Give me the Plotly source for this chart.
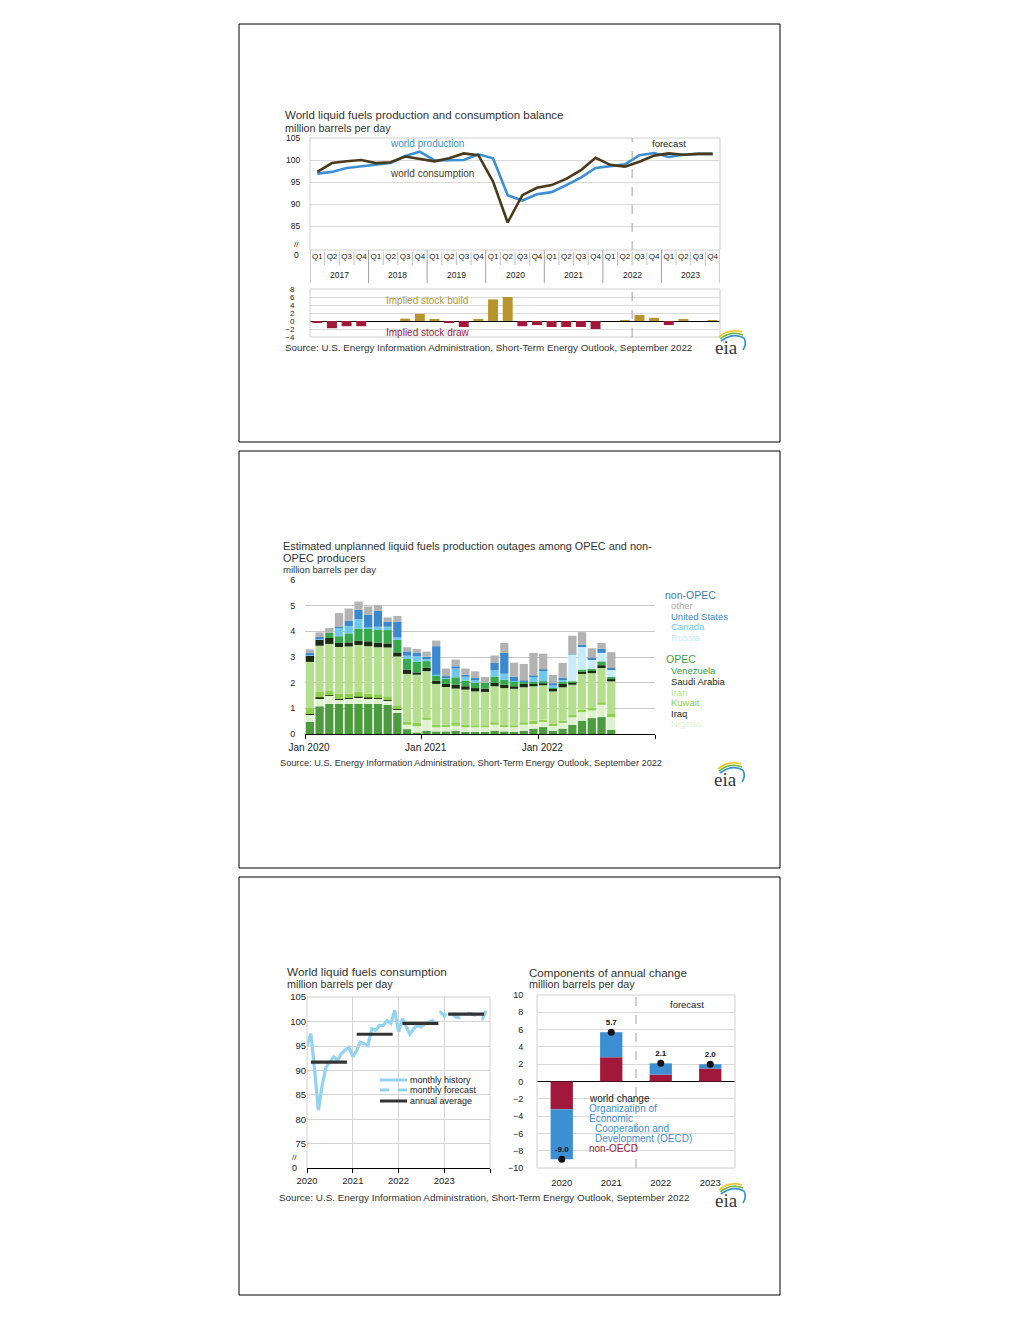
import plotly.graph_objects as go
import pandas as pd

W, H = 1020, 1320
OX, OY = 8, 8  # page body margin of the browser
FONT = "Liberation Sans, Arial, Helvetica, sans-serif"
SERIF = "Liberation Serif, DejaVu Serif, Times New Roman, serif"
INK = "#222222"
GRID = "#d9d9d9"
BLUE = "#3c8fd2"
BROWN = "#4a3a1c"
GOLD = "#b8952c"
CRIMSON = "#a2183a"
LIGHTBLUE = "#93d3ef"

# ================= Panel 1: production / consumption balance =================
quarter_names = ["Q1", "Q2", "Q3", "Q4"]
balance_years = ["2017", "2018", "2019", "2020", "2021", "2022", "2023"]
world_production = [96.9, 97.3, 98.2, 98.6, 98.9, 99.3, 100.9, 101.9,
                    99.9, 100.0, 100.0, 101.3, 100.4, 92.0, 90.8, 92.2,
                    92.7, 94.3, 96.0, 98.2, 98.6, 99.0, 101.1, 101.6,
                    100.7, 101.2, 101.4, 101.4]
world_consumption = [97.3, 99.3, 99.7, 100.0, 99.3, 99.5, 100.8, 100.3,
                     99.7, 100.4, 101.5, 101.1, 95.1, 85.8, 92.0, 93.7,
                     94.3, 95.7, 97.7, 100.5, 98.9, 98.5, 99.6, 101.0,
                     101.5, 101.2, 101.4, 101.4]
implied_stock_change = [-0.3, -1.8, -1.3, -1.3, 0.0, 0.0, 0.6, 1.8,
                        0.3, -0.3, -1.5, 0.5, 5.4, 6.0, -1.3, -1.0,
                        -1.5, -1.5, -1.5, -2.0, 0.0, 0.2, 1.5, 0.8,
                        -1.0, 0.3, 0.0, 0.2]
balance_forecast_boundary = 21.5  # between 2022 Q2 and 2022 Q3

# ================= Panel 2: unplanned outages (Jan 2020 - Aug 2022) =================
outage_tick_labels = ["Jan 2020", "Jan 2021", "Jan 2022", ""]
libya = [0.47, 1.08, 1.17, 1.17, 1.17, 1.17, 1.17, 1.17, 1.13, 0.82, 0.19, 0.05,
         0.13, 0.10, 0.10, 0.13, 0.08, 0.08, 0.08, 0.13, 0.10, 0.08, 0.13, 0.21,
         0.27, 0.13, 0.21, 0.36, 0.52, 0.62, 0.66, 0.17]
nigeria = [0.28, 0.32, 0.32, 0.17, 0.21, 0.26, 0.23, 0.21, 0.17, 0.13, 0.17, 0.25,
           0.42, 0.16, 0.17, 0.19, 0.18, 0.18, 0.18, 0.23, 0.17, 0.18, 0.23, 0.18,
           0.20, 0.19, 0.22, 0.29, 0.33, 0.30, 0.48, 0.49]
iraq = [0.03, 0.03, 0.02, 0.02, 0.02, 0.02, 0.02, 0.02, 0.02, 0.02, 0.0, 0.0,
        0.0, 0.0, 0.0, 0.0, 0.0, 0.0, 0.0, 0.0, 0.0, 0.0, 0.0, 0.0,
        0.0, 0.0, 0.0, 0.0, 0.0, 0.0, 0.0, 0.0]
kuwait = [0.23, 0.23, 0.19, 0.20, 0.18, 0.19, 0.16, 0.15, 0.15, 0.15, 0.13, 0.13,
          0.10, 0.10, 0.09, 0.11, 0.10, 0.08, 0.08, 0.10, 0.09, 0.08, 0.10, 0.13,
          0.09, 0.07, 0.09, 0.10, 0.10, 0.09, 0.10, 0.12]
iran = [1.80, 1.78, 1.81, 1.83, 1.83, 1.83, 1.84, 1.83, 1.90, 1.90, 1.85, 1.88,
        1.80, 1.59, 1.47, 1.34, 1.37, 1.32, 1.30, 1.40, 1.43, 1.42, 1.36, 1.34,
        1.34, 1.27, 1.30, 1.17, 1.39, 1.36, 1.33, 1.27]
saudi_arabia = [0.25, 0.24, 0.23, 0.16, 0.16, 0.16, 0.19, 0.18, 0.16, 0.16, 0.17, 0.09,
                0.13, 0.13, 0.12, 0.15, 0.13, 0.13, 0.13, 0.13, 0.13, 0.10, 0.13, 0.09,
                0.08, 0.11, 0.13, 0.09, 0.08, 0.10, 0.11, 0.09]
venezuela = [0.0, 0.0, 0.20, 0.26, 0.35, 0.48, 0.49, 0.49, 0.52, 0.49, 0.41, 0.41,
             0.26, 0.21, 0.23, 0.29, 0.22, 0.20, 0.22, 0.25, 0.20, 0.17, 0.08, 0.08,
             0.08, 0.06, 0.08, 0.04, 0.09, 0.07, 0.15, 0.08]
russia = [0.0, 0.0, 0.0, 0.0, 0.0, 0.0, 0.0, 0.0, 0.0, 0.0, 0.0, 0.0,
          0.0, 0.0, 0.0, 0.0, 0.0, 0.0, 0.0, 0.0, 0.0, 0.0, 0.0, 0.0,
          0.0, 0.0, 0.0, 1.03, 0.88, 0.37, 0.33, 0.31]
canada = [0.05, 0.06, 0.0, 0.32, 0.29, 0.36, 0.06, 0.13, 0.13, 0.09, 0.13, 0.22,
          0.10, 0.02, 0.03, 0.34, 0.15, 0.13, 0.0, 0.25, 0.23, 0.03, 0.03, 0.22,
          0.42, 0.06, 0.09, 0.03, 0.0, 0.0, 0.0, 0.0]
united_states = [0.04, 0.04, 0.0, 0.04, 0.20, 0.37, 0.48, 0.62, 0.20, 0.62, 0.17, 0.13,
                 0.07, 1.11, 0.04, 0.09, 0.08, 0.06, 0.0, 0.28, 0.81, 0.17, 0.02, 0.02,
                 0.04, 0.09, 0.07, 0.0, 0.09, 0.07, 0.16, 0.04]
other = [0.15, 0.18, 0.19, 0.54, 0.48, 0.32, 0.33, 0.23, 0.16, 0.22, 0.16, 0.15,
         0.20, 0.22, 0.30, 0.26, 0.24, 0.26, 0.23, 0.29, 0.39, 0.55, 0.65, 0.89,
         0.61, 0.32, 0.58, 0.72, 0.49, 0.36, 0.23, 0.62]

# ================= Panel 3: consumption =================
monthly_consumption = [95.1, 97.5, 90.3, 81.9, 87.0, 90.7, 91.7, 92.8, 92.1, 93.4, 94.2, 94.7,
                       92.8, 94.1, 95.8, 95.5, 95.1, 98.5, 98.2, 99.2, 99.2, 100.2, 99.6, 102.3,
                       97.9, 100.6, 98.9, 97.4, 98.5, 99.2, 98.9, 99.6, 99.9, 100.2, 101.6, 101.9,
                       101.1, 102.4, 101.9, 100.9, 100.8, 101.9, 101.7, 101.6, 101.3, 101.6, 100.4, 102.4]
history_month_count = 32  # Jan 2020 - Aug 2022
annual_years = [2020, 2021, 2022, 2023]
annual_average = [91.7, 97.4, 99.6, 101.5]
change_years = ["2020", "2021", "2022", "2023"]
non_oecd_change = [-3.2, 2.8, 0.8, 1.5]
oecd_change = [-5.8, 2.9, 1.3, 0.5]
world_change = [-9.0, 5.7, 2.1, 2.0]

# ---------------------------------------------------------------------------
annotations, shapes = [], []


def px(x):
    return (x - OX) / W


def py(y):
    return 1 - (y - OY) / H


def dx(a, b):
    return [px(a), px(b)]


def dy(top, bottom):
    return [py(bottom), py(top)]


def text(x, y, s, size=9, color=INK, xanchor="left", family=FONT):
    annotations.append(dict(x=px(x), y=py(y), xref="paper", yref="paper", text=s,
                            showarrow=False, xanchor=xanchor, yanchor="middle",
                            font=dict(size=size, color=color, family=family)))


def line(x0, y0, x1, y1, color="#000", width=1, dash="solid"):
    shapes.append(dict(type="line", xref="paper", yref="paper", x0=px(x0), y0=py(y0),
                       x1=px(x1), y1=py(y1), line=dict(color=color, width=width, dash=dash)))


def frame(x0, y0, x1, y1, color="#cfcfcf", sides="ltrb"):
    if "l" in sides:
        line(x0, y0, x0, y1, color)
    if "r" in sides:
        line(x1, y0, x1, y1, color)
    if "t" in sides:
        line(x0, y0, x1, y0, color)
    if "b" in sides:
        line(x0, y1, x1, y1, color)


def logo(cx, cy):
    text(cx, cy, "eia", size=19, color="#3a3a3a", xanchor="center", family=SERIF)
    arcs = [("#f0c419", -7, -10, 3, -19, 16, -15),
            ("#6db33f", -6, -8, 5, -17, 17, -12),
            ("#2f8fd2", -5, -6, 7, -15, 18, -9)]
    for col, ax, ay, bx, by, ex, ey in arcs:
        path = "M %f %f Q %f %f %f %f" % (px(cx + ax), py(cy + ay), px(cx + bx), py(cy + by),
                                          px(cx + ex), py(cy + ey))
        shapes.append(dict(type="path", xref="paper", yref="paper", path=path,
                           line=dict(color=col, width=1.6)))
    path = "M %f %f Q %f %f %f %f" % (px(cx + 18), py(cy - 9), px(cx + 21), py(cy - 3),
                                      px(cx + 17), py(cy + 3))
    shapes.append(dict(type="path", xref="paper", yref="paper", path=path,
                       line=dict(color="#2f8fd2", width=1.6)))


fig = go.Figure()

# ---------------- Panel 1 traces ----------------
q_idx = list(range(len(world_production)))
q_text = [q for _ in balance_years for q in quarter_names]
fig.add_trace(go.Scatter(x=q_idx, y=world_production, mode="lines", name="world production",
                         line=dict(color=BLUE, width=2.6), xaxis="x", yaxis="y"))
fig.add_trace(go.Scatter(x=q_idx, y=world_consumption, mode="lines", name="world consumption",
                         line=dict(color=BROWN, width=2.6), xaxis="x", yaxis="y"))
fig.add_trace(go.Bar(x=q_idx, y=implied_stock_change, width=0.68,
                     marker=dict(color=[GOLD if v >= 0 else CRIMSON for v in implied_stock_change],
                                 line=dict(width=0)),
                     xaxis="x2", yaxis="y2"))

# ---------------- Panel 2 traces ----------------
m_idx = list(range(len(libya)))
stack = [("Libya", libya, "#4c9c3f"), ("Nigeria", nigeria, "#dff2cf"), ("Iraq", iraq, "#1f2d17"),
         ("Kuwait", kuwait, "#8dd04b"), ("Iran", iran, "#b4df8f"),
         ("Saudi Arabia", saudi_arabia, "#1b2a13"), ("Venezuela", venezuela, "#36aa4b"),
         ("Russia", russia, "#c9ecfb"), ("Canada", canada, "#6fc8f0"),
         ("United States", united_states, "#3b87d0"), ("other", other, "#b3b3b3")]
for name, vals, col in stack:
    fig.add_trace(go.Bar(x=m_idx, y=vals, name=name, width=0.85,
                         marker=dict(color=col, line=dict(width=0)), xaxis="x3", yaxis="y3"))

# ---------------- Panel 3 traces ----------------
months = pd.date_range("2020-01-01", periods=len(monthly_consumption), freq="MS")
fig.add_trace(go.Scatter(x=months[:history_month_count], y=monthly_consumption[:history_month_count],
                         mode="lines", line=dict(color=LIGHTBLUE, width=3.2), xaxis="x4", yaxis="y4"))
fig.add_trace(go.Scatter(x=months[history_month_count - 1:], y=monthly_consumption[history_month_count - 1:],
                         mode="lines", line=dict(color=LIGHTBLUE, width=3.2, dash="dash"),
                         xaxis="x4", yaxis="y4"))
ax_x, ax_y = [], []
for yr, v in zip(annual_years, annual_average):
    ax_x += [pd.Timestamp(yr, 2, 1), pd.Timestamp(yr, 11, 15), None]
    ax_y += [v, v, None]
fig.add_trace(go.Scatter(x=ax_x, y=ax_y, mode="lines", line=dict(color="#333333", width=3.2),
                         xaxis="x4", yaxis="y4"))

fig.add_trace(go.Bar(x=change_years, y=non_oecd_change, width=0.45, marker=dict(color=CRIMSON, line=dict(width=0)),
                     xaxis="x5", yaxis="y5"))
fig.add_trace(go.Bar(x=change_years, y=oecd_change, width=0.45, marker=dict(color=BLUE, line=dict(width=0)),
                     xaxis="x5", yaxis="y5"))
fig.add_trace(go.Scatter(x=change_years, y=world_change, mode="markers+text",
                         marker=dict(color="#111111", size=7),
                         text=["<b>%.1f</b>" % v for v in world_change], textposition="top center",
                         textfont=dict(size=8, color="#111111", family=FONT),
                         xaxis="x5", yaxis="y5"))

# ---------------- Panel boxes ----------------
for top, bottom in [(24, 442), (451, 868), (877, 1295)]:
    shapes.append(dict(type="rect", xref="paper", yref="paper", x0=px(239), x1=px(780),
                       y0=py(bottom), y1=py(top), line=dict(color="#000000", width=1)))

# ---------------- Panel 1 decorations ----------------
text(283, 115, "World liquid fuels production and consumption balance", size=11.5, color="#333333")
text(283, 127.5, "million barrels per day", size=10.8, color="#333333")
frame(310, 138, 720, 250)
frame(310, 289, 720, 337)
text(301, 244, "//", size=8, xanchor="right")
text(301, 255, "0", size=8.5, xanchor="right")
for k, yr in enumerate(balance_years):
    annotations.append(dict(x=1.5 + 4 * k, y=py(275), xref="x", yref="paper", text=yr,
                            showarrow=False, yanchor="middle",
                            font=dict(size=8.5, color=INK, family=FONT)))
for k in range(len(balance_years) + 1):
    shapes.append(dict(type="line", xref="x", yref="paper", x0=-0.5 + 4 * k, x1=-0.5 + 4 * k,
                       y0=py(283), y1=py(250), line=dict(color="#a0a0a0", width=1)))
for i in range(len(q_idx) - 1):
    if (i + 1) % 4:
        shapes.append(dict(type="line", xref="x", yref="paper", x0=i + 0.5, x1=i + 0.5,
                           y0=py(265), y1=py(252), line=dict(color="#b0b0b0", width=0.8)))
shapes.append(dict(type="line", xref="x", yref="paper", x0=balance_forecast_boundary,
                   x1=balance_forecast_boundary, y0=py(250), y1=py(138),
                   line=dict(color="#a0a0a0", width=1, dash="dash")))
shapes.append(dict(type="line", xref="x2", yref="paper", x0=balance_forecast_boundary,
                   x1=balance_forecast_boundary, y0=py(337), y1=py(289),
                   line=dict(color="#a0a0a0", width=1, dash="dash")))
text(669, 143, "forecast", size=9.5, xanchor="center")
text(388, 143, "world production", size=10, color=BLUE)
text(388, 173, "world consumption", size=10, color=BROWN)
text(384, 301, "Implied stock build", size=10, color=GOLD)
text(384, 332, "Implied stock draw", size=10, color=CRIMSON)
text(283, 347, "Source: U.S. Energy Information Administration, Short-Term Energy Outlook, September 2022",
     size=9.8, color="#333333")
logo(726, 347)

# ---------------- Panel 2 decorations ----------------
text(281, 546, "Estimated unplanned liquid fuels production outages among OPEC and non-", size=10.9,
     color="#333333")
text(281, 558.5, "OPEC producers", size=10.9, color="#333333")
text(281, 569.5, "million barrels per day", size=9.5, color="#333333")
legend_items = [(663, 594.5, "non-OPEC", "#3f79b5", 10.5), (669, 605.5, "other", "#a8a8a8", 9.5),
                (669, 616, "United States", "#3b87d0", 9.5), (669, 626.5, "Canada", "#6fc8f0", 9.5),
                (669, 637, "Russia", "#c9ecfb", 9.5), (664, 658.5, "OPEC", "#3aa14c", 10.5),
                (669, 670.5, "Venezuela", "#2f9e44", 9.5), (669, 681.5, "Saudi Arabia", "#1b2a13", 9.5),
                (669, 692, "Iran", "#b4df8f", 9.5), (669, 702.5, "Kuwait", "#8dd04b", 9.5),
                (669, 713, "Iraq", "#1f2d17", 9.5), (669, 723.5, "Nigeria", "#dff2cf", 9.5)]
for x, y, s, c, sz in legend_items:
    text(x, y, s, size=sz, color=c)
text(278, 763, "Source: U.S. Energy Information Administration, Short-Term Energy Outlook, September 2022",
     size=9.2, color="#333333")
logo(725, 779)

# ---------------- Panel 3 decorations ----------------
text(285, 972, "World liquid fuels consumption", size=11.8, color="#333333")
text(285, 983.5, "million barrels per day", size=10.8, color="#333333")
text(527, 972, "Components of annual change", size=11.6, color="#333333")
text(527, 983.5, "million barrels per day", size=10.8, color="#333333")
frame(307, 997, 490, 1168, sides="ltr")
frame(537, 995, 735, 1168)
text(299, 1157, "//", size=8, xanchor="right")
text(299, 1168, "0", size=9, xanchor="right")
line(380, 1080, 407, 1080, LIGHTBLUE, 3)
line(380, 1090, 407, 1090, LIGHTBLUE, 3, "dash")
line(380, 1101, 407, 1101, "#333333", 3)
text(408, 1080, "monthly history", size=9)
text(408, 1090, "monthly forecast", size=9)
text(408, 1101, "annual average", size=9)
shapes.append(dict(type="line", xref="x5", yref="paper", x0=1.5, x1=1.5, y0=py(1168), y1=py(995),
                   line=dict(color="#a0a0a0", width=1, dash="dash")))
text(687, 1005, "forecast", size=9.5, xanchor="center")
text(587, 1098, "world change", size=10, color=INK)
text(587, 1108, "Organization of", size=10, color=BLUE)
text(587, 1118, "Economic", size=10, color=BLUE)
text(593, 1128, "Cooperation and", size=10, color=BLUE)
text(593, 1138, "Development (OECD)", size=10, color=BLUE)
text(587, 1148, "non-OECD", size=10, color=CRIMSON)
text(277, 1197, "Source: U.S. Energy Information Administration, Short-Term Energy Outlook, September 2022",
     size=9.9, color="#333333")
logo(726, 1200)

# ---------------- Axes ----------------
clear_ticks = dict(ticks="outside", tickcolor="rgba(0,0,0,0)")
fig.update_layout(
    width=W, height=H, margin=dict(l=0, r=0, t=0, b=0, pad=0, autoexpand=False),
    paper_bgcolor="white", plot_bgcolor="rgba(0,0,0,0)",
    showlegend=False, barmode="relative",
    font=dict(family=FONT, color=INK),
    annotations=annotations, shapes=shapes,
    xaxis=dict(domain=dx(310, 720), range=[-0.5, 27.5], tickvals=q_idx, ticktext=q_text,
               tickfont=dict(size=8), showgrid=False, zeroline=False, ticks="", anchor="y",
               automargin=False),
    yaxis=dict(domain=dy(138, 250), range=[79.55, 105], tickvals=[85, 90, 95, 100, 105],
               gridcolor=GRID, zeroline=False, ticklen=7, tickfont=dict(size=8.5), anchor="x",
               automargin=False, **clear_ticks),
    xaxis2=dict(domain=dx(310, 720), range=[-0.5, 27.5], showticklabels=False, showgrid=False,
                zeroline=False, anchor="y2", automargin=False),
    yaxis2=dict(domain=dy(289, 337), range=[-4, 8], tickvals=[-4, -2, 0, 2, 4, 6, 8], gridcolor=GRID,
                zeroline=True, zerolinecolor="#000000", zerolinewidth=1, ticklen=13,
                tickfont=dict(size=8), anchor="x2", automargin=False, **clear_ticks),
    xaxis3=dict(domain=dx(305, 655), range=[-0.5, 35.5], tickvals=[-0.5, 11.5, 23.5, 35.5],
                ticktext=outage_tick_labels, ticks="outside", ticklen=4, tickcolor="#000000",
                ticklabelshift=4,
                showline=True, linecolor="#000000", linewidth=1, showgrid=False, zeroline=False,
                tickfont=dict(size=10), anchor="y3", automargin=False),
    yaxis3=dict(domain=dy(580, 734), range=[0, 6], dtick=1, gridcolor="#c8c8c8", zeroline=False,
                ticklen=7, tickfont=dict(size=9), anchor="x3", automargin=False, **clear_ticks),
    xaxis4=dict(type="date", domain=dx(307, 490), range=["2020-01-01", "2024-01-01"],
                tickvals=["2020-01-01", "2021-01-01", "2022-01-01", "2023-01-01", "2024-01-01"],
                ticktext=["2020", "2021", "2022", "2023", ""], ticks="outside", ticklen=4,
                tickcolor="#000000", showline=True, linecolor="#000000", showgrid=True,
                gridcolor="#d4d4d4", zeroline=False, tickfont=dict(size=9.5), anchor="y4",
                automargin=False),
    yaxis4=dict(domain=dy(997, 1168), range=[70.1, 105], tickvals=[75, 80, 85, 90, 95, 100, 105],
                gridcolor="#d4d4d4", zeroline=False, ticks="", tickfont=dict(size=9.5), anchor="x4",
                automargin=False),
    xaxis5=dict(domain=dx(537, 735), type="category", range=[-0.5, 3.5], showgrid=False,
                zeroline=False, ticklen=6, tickfont=dict(size=9.5), anchor="y5", automargin=False,
                **clear_ticks),
    yaxis5=dict(domain=dy(995, 1168), range=[-10, 10], dtick=2, gridcolor=GRID, zeroline=True,
                zerolinecolor="#000000", zerolinewidth=1, ticklen=11, tickfont=dict(size=9),
                anchor="x5", automargin=False, **clear_ticks),
)

fig.write_html("out.html")
